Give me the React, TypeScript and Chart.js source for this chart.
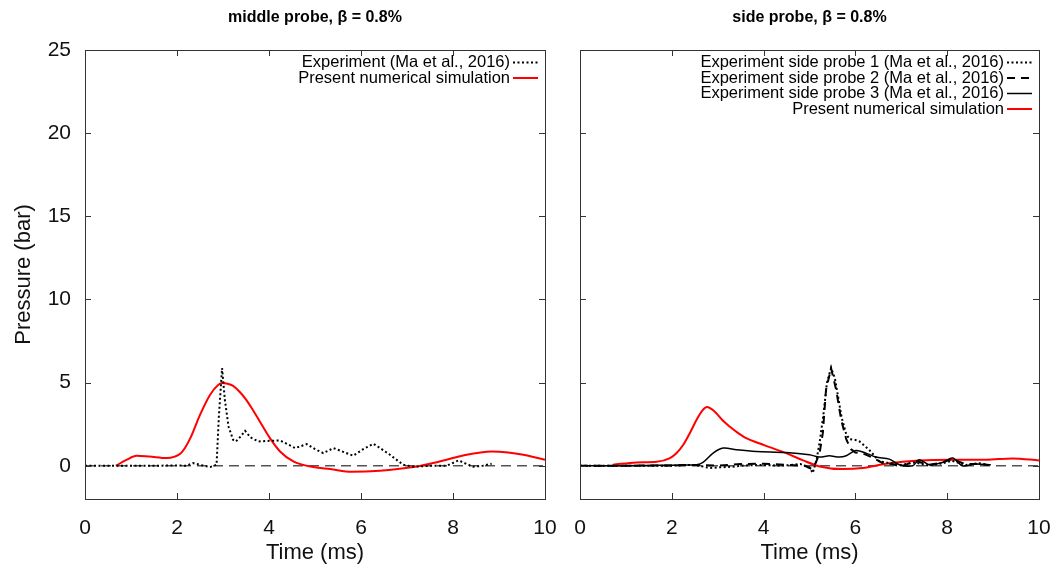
import React, { useEffect, useRef } from 'react';
import { Chart, registerables } from 'chart.js';
Chart.register(...registerables);

const FONT = '"Liberation Sans", Arial, Helvetica, sans-serif';

const xTicks = [0, 2, 4, 6, 8, 10];
const yTicks = [0, 5, 10, 15, 20, 25];

const midTitle = 'middle probe, \u03b2 = 0.8%';
const sideTitle = 'side probe, \u03b2 = 0.8%';

// middle probe — experiment (Ma et al., 2016)
const midExpT = [0, 0.5, 1.0, 1.5, 2.0, 2.2, 2.35, 2.5, 2.72, 2.86, 2.91, 2.98, 3.04, 3.12, 3.22, 3.28, 3.38, 3.48, 3.6, 3.77, 4.0, 4.24, 4.4, 4.57, 4.82, 5.0, 5.18, 5.4, 5.6, 5.83, 6.05, 6.27, 6.45, 6.63, 6.8, 6.92, 7.14, 7.5, 7.86, 8.12, 8.3, 8.44, 8.65, 8.84];
const midExpP = [0, 0, 0, 0, 0.02, 0.0, 0.16, 0.05, -0.08, 0.06, 2.96, 5.87, 3.97, 2.36, 1.56, 1.46, 1.75, 2.1, 1.7, 1.46, 1.5, 1.52, 1.3, 1.06, 1.3, 1.0, 0.76, 1.06, 0.85, 0.6, 1.0, 1.32, 1.0, 0.66, 0.3, 0.06, -0.06, 0.0, 0.0, 0.32, 0.1, -0.06, 0.0, 0.12];

// middle probe — present simulation
const midSimT = [0.67, 0.9, 1.12, 1.4, 1.78, 1.95, 2.07, 2.18, 2.3, 2.5, 2.72, 2.9, 2.98, 3.1, 3.22, 3.36, 3.51, 3.65, 3.8, 4.02, 4.24, 4.53, 4.96, 5.33, 5.8, 6.41, 7.14, 7.5, 7.86, 8.22, 8.84, 9.2, 9.53, 10];
const midSimP = [0, 0.35, 0.6, 0.55, 0.46, 0.55, 0.72, 1.1, 1.72, 3.06, 4.27, 4.87, 4.97, 4.93, 4.8, 4.45, 3.95, 3.35, 2.66, 1.66, 0.86, 0.26, -0.08, -0.2, -0.36, -0.3, -0.08, 0.12, 0.36, 0.62, 0.86, 0.8, 0.66, 0.36];

// side probe 1 (dotted)
const sideP1T = [0, 0.5, 1, 1.5, 2, 2.4, 2.6, 2.83, 3.0, 3.33, 3.6, 4.0, 4.4, 4.8, 5.0, 5.07, 5.15, 5.22, 5.3, 5.38, 5.47, 5.55, 5.62, 5.7, 5.8, 5.87, 6.0, 6.09, 6.3, 6.52, 6.74, 7.0, 7.3, 7.6, 7.9, 8.1, 8.4, 8.7, 8.9];
const sideP1P = [0, 0, 0, 0, 0, 0.05, 0.0, -0.14, -0.1, -0.06, 0.02, 0.05, 0.0, 0.1, -0.1, -0.44, 0.3, 1.4, 3.0, 5.0, 5.87, 5.3, 4.2, 2.9, 1.9, 1.6, 1.55, 1.46, 0.96, 0.26, 0.16, 0.05, 0.2, 0.0, 0.15, 0.3, 0.05, 0.15, 0.05];

// side probe 2 (dashed)
const sideP2T = [0, 1, 2, 2.5, 3, 3.5, 4, 4.5, 4.9, 5.05, 5.14, 5.22, 5.29, 5.36, 5.47, 5.58, 5.69, 5.8, 5.9, 6.0, 6.2, 6.4, 6.6, 6.8, 7.0, 7.3, 7.6, 7.9, 8.1, 8.4, 8.7, 8.9];
const sideP2P = [0, 0, 0.02, 0.05, 0.0, 0.1, 0.12, 0.05, 0.0, -0.2, 0.2, 0.76, 1.96, 4.57, 5.87, 4.57, 2.76, 1.6, 1.0, 0.8, 0.7, 0.45, 0.15, 0.1, -0.05, 0.3, 0.05, 0.2, 0.4, 0.1, 0.1, 0.05];

// side probe 3 (solid)
const sideP3T = [0, 0.5, 1.0, 1.5, 2.0, 2.3, 2.54, 2.68, 2.9, 3.12, 3.41, 3.84, 4.49, 5.0, 5.22, 5.43, 5.65, 5.8, 6.01, 6.23, 6.45, 6.74, 6.96, 7.25, 7.39, 7.61, 7.9, 8.12, 8.33, 8.6, 8.95];
const sideP3P = [0, 0, 0, 0.02, 0.03, 0.05, 0.06, 0.2, 0.76, 1.06, 0.96, 0.86, 0.8, 0.66, 0.52, 0.6, 0.52, 0.6, 0.92, 0.76, 0.52, 0.4, 0.06, 0.0, 0.36, 0.06, 0.2, 0.46, 0.0, 0.1, 0.06];

// side probe — present simulation
const sideSimT = [0.72, 1.23, 1.67, 1.96, 2.1, 2.25, 2.4, 2.54, 2.66, 2.77, 2.87, 2.97, 3.1, 3.26, 3.44, 3.62, 3.9, 4.13, 4.49, 4.86, 5.22, 5.72, 6.16, 6.67, 7.39, 8.12, 8.84, 9.42, 10];
const sideSimP = [0.06, 0.2, 0.24, 0.46, 0.75, 1.26, 2.0, 2.76, 3.3, 3.53, 3.4, 3.16, 2.75, 2.36, 1.98, 1.66, 1.35, 1.12, 0.76, 0.32, -0.04, -0.2, -0.14, 0.12, 0.32, 0.36, 0.36, 0.44, 0.32];

const zeroT = [0, 10];
const zeroP = [0, 0];

function pts(t: number[], p: number[]) {
  return t.map((x, i) => ({ x, y: p[i] }));
}

const framePlugin = {
  id: 'frame',
  afterDatasetsDraw(chart: any) {
    const { ctx, chartArea: a, scales } = chart;
    ctx.save();
    ctx.strokeStyle = '#333';
    ctx.lineWidth = 1;
    ctx.setLineDash([]);
    ctx.strokeRect(Math.round(a.left) + 0.5, Math.round(a.top) + 0.5, Math.round(a.right - a.left), Math.round(a.bottom - a.top));
    const L = 6;
    ctx.beginPath();
    for (const v of xTicks) {
      const px = Math.round(scales.x.getPixelForValue(v)) + 0.5;
      ctx.moveTo(px, a.bottom); ctx.lineTo(px, a.bottom - L);
      ctx.moveTo(px, a.top); ctx.lineTo(px, a.top + L);
    }
    for (const v of yTicks) {
      const py = Math.round(scales.y.getPixelForValue(v)) + 0.5;
      ctx.moveTo(a.left, py); ctx.lineTo(a.left + L, py);
      ctx.moveTo(a.right, py); ctx.lineTo(a.right - L, py);
    }
    ctx.stroke();
    ctx.restore();
  },
  afterDraw(chart: any, _args: any, opts: any) {
    const { ctx, chartArea: a } = chart;
    ctx.save();
    ctx.fillStyle = '#000';
    ctx.font = `bold 16px ${FONT}`;
    ctx.textAlign = 'center';
    ctx.textBaseline = 'middle';
    ctx.fillText(opts.title || '', (a.left + a.right) / 2, 18);
    // legend
    ctx.font = `16.5px ${FONT}`;
    ctx.textAlign = 'right';
    let i = 0;
    for (const ds of chart.data.datasets) {
      if (!ds.label) continue;
      const y = a.top + 12.5 + i * 15.5;
      ctx.fillStyle = '#000';
      ctx.fillText(ds.label, a.right - 35, y);
      ctx.beginPath();
      ctx.strokeStyle = ds.borderColor;
      ctx.lineWidth = ds.borderWidth;
      ctx.setLineDash(ds.borderDash || []);
      ctx.moveTo(a.right - 32, y);
      ctx.lineTo(a.right - 7, y);
      ctx.stroke();
      i++;
    }
    ctx.restore();
  },
};

function makeConfig(isLeft: boolean): any {
  const zero = {
    label: '', data: pts(zeroT, zeroP), borderColor: '#555', borderWidth: 1.5,
    borderDash: [10, 6], pointRadius: 0, order: 10,
  };
  const datasets = isLeft
    ? [
        { label: 'Experiment (Ma et al., 2016)', data: pts(midExpT, midExpP), borderColor: '#000', borderWidth: 2, borderDash: [2, 2.5], pointRadius: 0, tension: 0 },
        { label: 'Present numerical simulation', data: pts(midSimT, midSimP), borderColor: '#ff0000', borderWidth: 2, pointRadius: 0, cubicInterpolationMode: 'monotone' },
        zero,
      ]
    : [
        { label: 'Experiment side probe 1 (Ma et al., 2016)', data: pts(sideP1T, sideP1P), borderColor: '#000', borderWidth: 2, borderDash: [2, 2.5], pointRadius: 0, tension: 0 },
        { label: 'Experiment side probe 2 (Ma et al., 2016)', data: pts(sideP2T, sideP2P), borderColor: '#000', borderWidth: 2, borderDash: [8, 6], pointRadius: 0, tension: 0 },
        { label: 'Experiment side probe 3 (Ma et al., 2016)', data: pts(sideP3T, sideP3P), borderColor: '#000', borderWidth: 1.5, pointRadius: 0, tension: 0.3 },
        { label: 'Present numerical simulation', data: pts(sideSimT, sideSimP), borderColor: '#ff0000', borderWidth: 2, pointRadius: 0, cubicInterpolationMode: 'monotone' },
        zero,
      ];
  const tickFont = { size: 21, family: FONT };
  const titleFont = { size: 22, family: FONT };
  return {
    type: 'line',
    data: { datasets },
    plugins: [framePlugin],
    options: {
      responsive: false,
      maintainAspectRatio: false,
      animation: false,
      layout: { padding: { top: 50, right: isLeft ? 13 : 17, left: 0, bottom: 0 } },
      plugins: { legend: { display: false }, tooltip: { enabled: false }, frame: { title: isLeft ? midTitle : sideTitle } },
      scales: {
        x: {
          type: 'linear', min: 0, max: 10,
          afterBuildTicks: (s: any) => { s.ticks = xTicks.map((v) => ({ value: v })); },
          ticks: { font: tickFont, color: '#111', padding: 17, maxRotation: 0, autoSkip: false },
          grid: { display: false, drawTicks: false },
          border: { display: false },
          title: { display: true, text: 'Time (ms)', font: titleFont, color: '#111', padding: { top: 0, bottom: 4 } },
          afterFit: (s: any) => { s.height = 71; s.paddingLeft = 0; s.paddingRight = 0; },
        },
        y: {
          type: 'linear', min: -2, max: 25,
          afterBuildTicks: (s: any) => { s.ticks = yTicks.map((v) => ({ value: v })); },
          ticks: { display: isLeft, font: tickFont, color: '#111', padding: 14 },
          grid: { display: false, drawTicks: false },
          border: { display: false },
          title: { display: isLeft, text: 'Pressure (bar)', font: titleFont, color: '#111', padding: { top: 11, bottom: 0 } },
          afterFit: (s: any) => { s.width = isLeft ? 85 : 22; s.paddingTop = 0; s.paddingBottom = 0; },
        },
      },
    },
  };
}

export default function App() {
  const r1 = useRef<HTMLCanvasElement>(null);
  const r2 = useRef<HTMLCanvasElement>(null);
  useEffect(() => {
    const c1 = new Chart(r1.current as HTMLCanvasElement, makeConfig(true));
    const c2 = new Chart(r2.current as HTMLCanvasElement, makeConfig(false));
    return () => { c1.destroy(); c2.destroy(); };
  }, []);
  return (
    <div style={{ position: 'absolute', left: 0, top: 0, width: 1056, height: 570, background: '#fff' }}>
      <canvas ref={r1} width={558} height={570} style={{ position: 'absolute', left: 0, top: 0 }} />
      <canvas ref={r2} width={498} height={570} style={{ position: 'absolute', left: 558, top: 0 }} />
    </div>
  );
}
